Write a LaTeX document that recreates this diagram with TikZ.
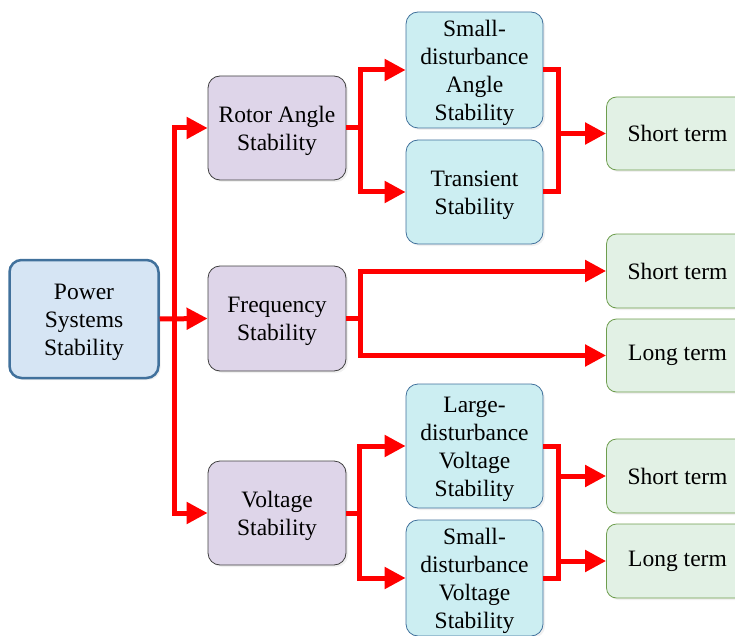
\documentclass[tikz,border=0pt]{standalone}
\usepackage{fontspec}
\setmainfont{Liberation Serif}
\usetikzlibrary{arrows.meta,shadows,calc}
\definecolor{pssfill}{HTML}{D6E5F4}
\definecolor{pssdraw}{HTML}{41719C}
\definecolor{purfill}{HTML}{DED5E9}
\definecolor{purdraw}{HTML}{404040}
\definecolor{cyfill}{HTML}{CCEEF2}
\definecolor{cydraw}{HTML}{41719C}
\definecolor{grfill}{HTML}{E2F1E5}
\definecolor{grdraw}{HTML}{6E9E4E}
\definecolor{linered}{HTML}{FF0000}
\newcommand{\tstr}{\rule{0pt}{22pt}}
\begin{document}
\begin{tikzpicture}[x=1pt,y=-1pt,
  box/.style={rounded corners=12pt, align=center, inner sep=0pt,
    font=\fontsize{23.5}{28}\selectfont,
    drop shadow={opacity=0.12, shadow xshift=2pt, shadow yshift=-2pt}},
  pssbox/.style={box, fill=pssfill, draw=pssdraw, line width=2.5pt},
  purbox/.style={box, fill=purfill, draw=purdraw, line width=0.8pt},
  cybox/.style={box, fill=cyfill, draw=cydraw, line width=0.8pt},
  grbox/.style={box, fill=grfill, draw=grdraw, line width=0.8pt, rounded corners=10pt},
  redline/.style={draw=linered, line width=5pt},
  arr/.style={redline, -{Triangle[length=21pt,width=21pt]}}]
\useasboundingbox (0,0) rectangle (735,636);
% nodes
\node[pssbox, minimum width=149pt, minimum height=118pt] (pss) at (84,319) {\tstr Power\\Systems\\Stability};
\node[purbox, minimum width=138pt, minimum height=104pt] (rot) at (277,128) {\tstr Rotor Angle\\Stability};
\node[purbox, minimum width=138pt, minimum height=105pt] (freq) at (277,318.5) {\tstr Frequency\\Stability};
\node[purbox, minimum width=138pt, minimum height=104pt] (volt) at (277,513) {\tstr Voltage\\Stability};
\node[cybox, minimum width=137pt, minimum height=116pt] (sas) at (474.5,70) {\tstr Small-\\disturbance\\Angle\\Stability};
\node[cybox, minimum width=137pt, minimum height=104pt] (tra) at (474.5,192) {\tstr Transient\\Stability};
\node[cybox, minimum width=137pt, minimum height=124pt] (ldv) at (474.5,446) {\tstr Large-\\disturbance\\Voltage\\Stability};
\node[cybox, minimum width=137pt, minimum height=116pt] (sdv) at (474.5,578) {\tstr Small-\\disturbance\\Voltage\\Stability};
\node[grbox, minimum width=142pt, minimum height=73pt] (st1) at (677.5,133.5) {Short term};
\node[grbox, minimum width=142pt, minimum height=74pt] (st2) at (677.5,271) {Short term};
\node[grbox, minimum width=142pt, minimum height=73pt] (lt1) at (677.5,355.5) {Long term};
\node[grbox, minimum width=142pt, minimum height=74pt] (st3) at (677.5,476) {Short term};
\node[grbox, minimum width=142pt, minimum height=74pt] (lt2) at (677.5,561) {Long term};
% trunk
\coordinate (tx) at ($(pss.east)+(15,0)$);
\draw[arr] (pss.east) -- (freq.west);
\draw[arr] (tx |- volt.west) -- (tx |- rot.west) -- (rot.west);
\draw[arr] (tx |- rot.west) -- (tx |- volt.west) -- (volt.west);
% rotor branch
\draw[redline] (rot.east) -- ++(14,0) coordinate (rj);
\draw[arr] (rj) |- (sas.west);
\draw[arr] (rj) |- (tra.west);
\draw[redline] (sas.east) -- ++(15,0) coordinate (ra) |- (tra.east);
\draw[arr] (ra |- st1.west) -- (st1.west);
% frequency branch
\draw[redline] (freq.east) -- ++(14,0) coordinate (fj);
\draw[arr] (fj) |- (st2.west);
\draw[arr] (fj) |- (lt1.west);
% voltage branch
\draw[redline] (volt.east) -- ++(13,0) coordinate (vj);
\draw[arr] (vj) |- (ldv.west);
\draw[arr] (vj) |- (sdv.west);
\draw[redline] (ldv.east) -- ++(15,0) coordinate (va) |- (sdv.east);
\draw[arr] (va |- st3.west) -- (st3.west);
\draw[arr] (va |- lt2.west) -- (lt2.west);
\end{tikzpicture}
\end{document}
